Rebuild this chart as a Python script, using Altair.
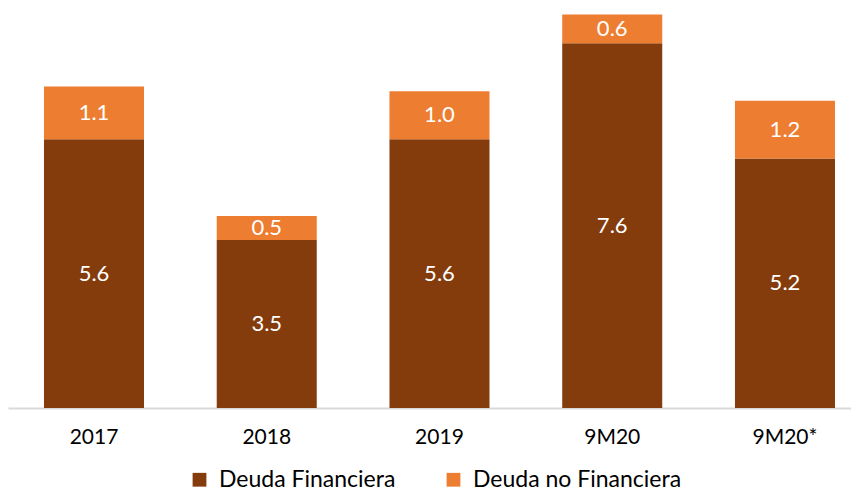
import altair as alt
import pandas as pd

periods = ["2017", "2018", "2019", "9M20", "9M20*"]
deuda_fin = [5.6, 3.5, 5.6, 7.6, 5.2]
deuda_no_fin = [1.1, 0.5, 1.0, 0.6, 1.2]
series = ["Deuda Financiera", "Deuda no Financiera"]
colors = ["#843C0C", "#ED7D31"]

rows = []
for p, a, b in zip(periods, deuda_fin, deuda_no_fin):
    rows.append({"periodo": p, "serie": series[0], "valor": a, "orden": 0})
    rows.append({"periodo": p, "serie": series[1], "valor": b, "orden": 1})
df = pd.DataFrame(rows)

FONT = "Lato"

x = alt.X("periodo:N", sort=periods, title=None,
          scale=alt.Scale(paddingInner=0.421, paddingOuter=0.1505, align=0.692),
          axis=alt.Axis(labelAngle=0, labelFontSize=21, labelColor="#000000",
                        labelFont=FONT, ticks=False, labelPadding=18,
                        domainColor="#D9D9D9", domainWidth=2))

ydom = [0, 8.25]

base = alt.Chart(df).transform_stack(
    stack="valor", groupby=["periodo"], as_=["y0", "y1"],
    sort=[alt.SortField("orden", order="ascending")]
).transform_calculate(mid="(datum.y0 + datum.y1) / 2")

bars = base.mark_bar().encode(
    x=x,
    y=alt.Y("y0:Q", scale=alt.Scale(domain=ydom), axis=None),
    y2="y1:Q",
    color=alt.Color("serie:N", sort=series,
                    scale=alt.Scale(domain=series, range=colors),
                    legend=alt.Legend(title=None, orient="none", direction="horizontal",
                                      legendX=180, legendY=456, symbolType="square",
                                      symbolSize=190, symbolStrokeWidth=0,
                                      labelFontSize=23, labelFont=FONT, labelColor="#000000",
                                      labelLimit=400,
                                      columnPadding=46, symbolOffset=0, labelOffset=8)),
)

labels = base.mark_text(color="white", fontSize=22, font=FONT).encode(
    x=x,
    y=alt.Y("mid:Q", scale=alt.Scale(domain=ydom), axis=None),
    text=alt.Text("valor:Q", format=".1f"),
)

chart = (bars + labels).properties(
    width=843, height=396,
    autosize=alt.AutoSizeParams(type="none"),
    padding={"left": 0, "top": 4, "right": 0, "bottom": 85},
).configure_view(stroke=None)

chart.save("out.html", embed_options={"renderer": "svg", "actions": False})
